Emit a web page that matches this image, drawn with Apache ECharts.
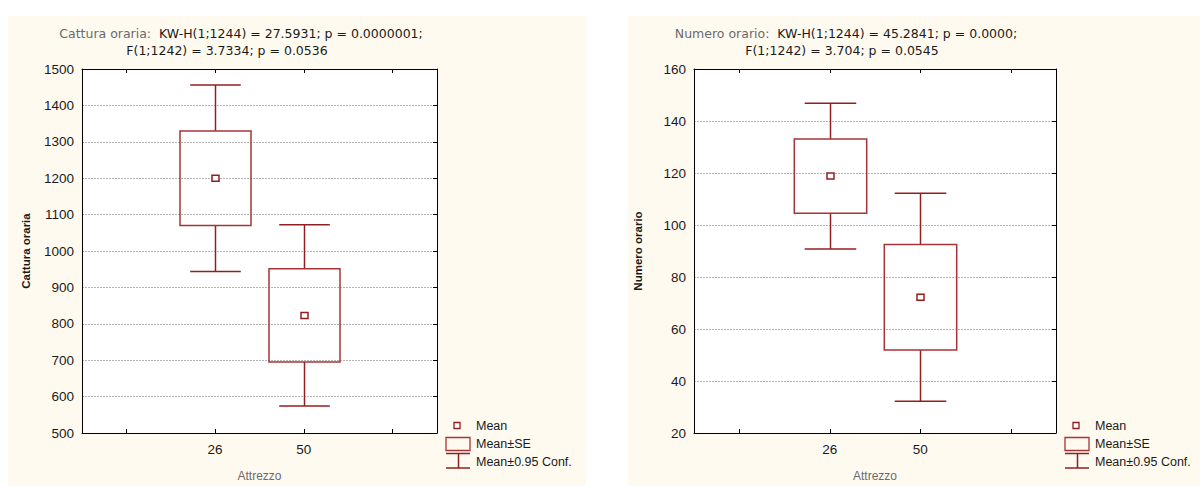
<!DOCTYPE html>
<html>
<head>
<meta charset="utf-8">
<script src="https://cdn.jsdelivr.net/npm/echarts@6/dist/echarts.min.js"></script>
<style>
  html, body { margin: 0; padding: 0; background: #ffffff; }
  #chart { width: 1200px; height: 487px; }
</style>
</head>
<body>
<div id="chart"></div>
<script>
// Groups on the x axis (gear type)
const categories = ['26', '50'];

// Cattura oraria: mean, ±SE box, ±0.95 confidence whiskers
const catchMean   = [1200, 823];
const catchSeLow  = [1070, 695];
const catchSeHigh = [1330, 951];
const catchCiLow  = [944, 574];
const catchCiHigh = [1456, 1072];
const catchTicks  = { min: 500, max: 1500, step: 100 };

// Numero orario: mean, ±SE box, ±0.95 confidence whiskers
const countMean   = [118.8, 72.2];
const countSeLow  = [104.5, 51.9];
const countSeHigh = [133.1, 92.5];
const countCiLow  = [90.8, 32.2];
const countCiHigh = [146.8, 112.2];
const countTicks  = { min: 20, max: 160, step: 20 };

const legendLabels = ['Mean', 'Mean±SE', 'Mean±0.95 Conf.'];

const catchTitle1 = ['Cattura oraria:', '  KW-H(1;1244) = 27.5931; p = 0.0000001;'];
const catchTitle2 = 'F(1;1242) = 3.7334; p = 0.0536';
const countTitle1 = ['Numero orario:', '  KW-H(1;1244) = 45.2841; p = 0.0000;'];
const countTitle2 = 'F(1;1242) = 3.704; p = 0.0545';

// padded category list: empty slots on each side of the two groups
const axisCats = [''].concat(categories, ['']);

const RED_BOX = '#a63436';
const RED_WHISKER = '#931e20';
const FONT = '"Liberation Sans", Arial, sans-serif';
const TITLE_FONT = '"DejaVu Sans", Verdana, sans-serif';

function seriesData(ciLo, seLo, m, seHi, ciHi) {
  return categories.map((c, i) => [c, ciLo[i], seLo[i], m[i], seHi[i], ciHi[i]]);
}

function renderBox(params, api) {
  const x = api.value(0);
  const band = api.size([1, 0])[0];
  const pCiLo = api.coord([x, api.value(1)]);
  const pSeLo = api.coord([x, api.value(2)]);
  const pMean = api.coord([x, api.value(3)]);
  const pSeHi = api.coord([x, api.value(4)]);
  const pCiHi = api.coord([x, api.value(5)]);
  const cx = Math.round(pMean[0]) + 0.5;
  const boxW = band * 0.8;
  const capW = band * 0.57;
  const lineW = { stroke: RED_WHISKER, lineWidth: 1.5 };
  return {
    type: 'group',
    children: [
      { type: 'line', shape: { x1: cx, y1: pCiHi[1], x2: cx, y2: pSeHi[1] }, style: lineW },
      { type: 'line', shape: { x1: cx - capW / 2, y1: pCiHi[1], x2: cx + capW / 2, y2: pCiHi[1] }, style: lineW },
      { type: 'line', shape: { x1: cx, y1: pSeLo[1], x2: cx, y2: pCiLo[1] }, style: lineW },
      { type: 'line', shape: { x1: cx - capW / 2, y1: pCiLo[1], x2: cx + capW / 2, y2: pCiLo[1] }, style: lineW },
      { type: 'rect', shape: { x: cx - boxW / 2, y: pSeHi[1], width: boxW, height: pSeLo[1] - pSeHi[1] },
        style: { fill: 'none', stroke: RED_BOX, lineWidth: 1.5 } },
      { type: 'rect', shape: { x: cx - 3.5, y: pMean[1] - 3, width: 7, height: 6 },
        style: { fill: '#ffffff', stroke: RED_WHISKER, lineWidth: 1.5 } }
    ]
  };
}

function xAxes(gridIndex) {
  const base = {
    type: 'category',
    gridIndex: gridIndex,
    data: axisCats,
    boundaryGap: true,
    axisLine: { show: true, lineStyle: { color: '#000', width: 1 } },
    axisTick: { show: true, inside: true, length: 4, alignWithLabel: true, interval: 0, lineStyle: { color: '#000' } },
    splitLine: { show: false }
  };
  return [
    Object.assign({}, base, {
      position: 'bottom',
      axisLabel: { interval: 0, color: '#1a1a1a', fontSize: 13.5, fontFamily: FONT, margin: 9 },
      name: 'Attrezzo',
      nameLocation: 'middle',
      nameGap: 37,
      nameTextStyle: { color: '#6a6a6a', fontSize: 12, fontFamily: FONT }
    }),
    Object.assign({}, base, { position: 'top', axisLabel: { show: false } })
  ];
}

function yAxes(gridIndex, ticks, title) {
  const base = {
    type: 'value',
    gridIndex: gridIndex,
    min: ticks.min,
    max: ticks.max,
    interval: ticks.step,
    axisLine: { show: true, onZero: false, lineStyle: { color: '#000', width: 1 } }
  };
  return [
    Object.assign({}, base, {
      position: 'left',
      axisTick: { show: false },
      axisLabel: { color: '#1a1a1a', fontSize: 13.5, fontFamily: FONT, margin: 8, formatter: v => String(v) },
      splitLine: { show: true, lineStyle: { color: '#b4b4b4', type: [2, 1], width: 1 } },
      name: title,
      nameLocation: 'middle',
      nameGap: 50,
      nameTextStyle: { color: '#1a1a1a', fontSize: 11.5, fontWeight: 'bold', fontFamily: FONT }
    }),
    Object.assign({}, base, {
      position: 'right',
      axisTick: { show: true, inside: true, length: 4, lineStyle: { color: '#000' } },
      axisLabel: { show: false },
      splitLine: { show: false }
    })
  ];
}

function titleText(cx, y, parts) {
  return {
    type: 'text', x: cx, y: y,
    style: {
      text: Array.isArray(parts) ? '{a|' + parts[0] + '}' + parts[1] : parts,
      rich: { a: { fill: '#6a6a6a', fontSize: 12.5, fontFamily: TITLE_FONT } },
      fill: '#1a1a1a', fontSize: 12.5, fontFamily: TITLE_FONT,
      align: 'center', verticalAlign: 'middle'
    }
  };
}

function legendGroup(x0) {
  const stroke = { stroke: RED_WHISKER, lineWidth: 1.5 };
  const textStyle = (t, y) => ({
    type: 'text', x: x0 + 30, y: y,
    style: { text: t, fill: '#1a1a1a', fontSize: 12.5, fontFamily: FONT, verticalAlign: 'middle' }
  });
  return [
    { type: 'rect', shape: { x: x0 + 8, y: 422.5, width: 6, height: 6 }, style: { fill: '#fff', stroke: RED_WHISKER, lineWidth: 1.3 } },
    { type: 'rect', shape: { x: x0, y: 437.5, width: 24, height: 13 }, style: { fill: 'none', stroke: RED_BOX, lineWidth: 1.3 } },
    { type: 'line', shape: { x1: x0, y1: 453.5, x2: x0 + 24, y2: 453.5 }, style: stroke },
    { type: 'line', shape: { x1: x0 + 12.5, y1: 453.5, x2: x0 + 12.5, y2: 468 }, style: stroke },
    { type: 'line', shape: { x1: x0, y1: 468, x2: x0 + 24, y2: 468 }, style: stroke },
    textStyle(legendLabels[0], 426),
    textStyle(legendLabels[1], 444),
    textStyle(legendLabels[2], 462)
  ];
}

const chart = echarts.init(document.getElementById('chart'), null, { renderer: 'svg' });

chart.setOption({
  backgroundColor: '#ffffff',
  animation: false,
  graphic: [
    { type: 'rect', z: -10, shape: { x: 8, y: 16, width: 578, height: 470 }, style: { fill: '#fffaf0' } },
    { type: 'rect', z: -10, shape: { x: 628, y: 16, width: 572, height: 470 }, style: { fill: '#fffaf0' } },
    titleText(241, 33, catchTitle1),
    titleText(227, 50, catchTitle2),
    titleText(846, 33, countTitle1),
    titleText(842, 50, countTitle2)
  ].concat(legendGroup(446), legendGroup(1065)),
  grid: [
    { left: 82, top: 69, right: 763, bottom: 49, show: true, backgroundColor: '#ffffff', borderWidth: 0 },
    { left: 694, top: 69, right: 144, bottom: 49, show: true, backgroundColor: '#ffffff', borderWidth: 0 }
  ],
  xAxis: xAxes(0).concat(xAxes(1)),
  yAxis: yAxes(0, catchTicks, 'Cattura oraria').concat(yAxes(1, countTicks, 'Numero orario')),
  series: [
    {
      type: 'custom', xAxisIndex: 0, yAxisIndex: 0,
      encode: { x: 0, y: [1, 2, 3, 4, 5] },
      renderItem: renderBox,
      data: seriesData(catchCiLow, catchSeLow, catchMean, catchSeHigh, catchCiHigh)
    },
    {
      type: 'custom', xAxisIndex: 2, yAxisIndex: 2,
      encode: { x: 0, y: [1, 2, 3, 4, 5] },
      renderItem: renderBox,
      data: seriesData(countCiLow, countSeLow, countMean, countSeHigh, countCiHigh)
    }
  ]
});
</script>
</body>
</html>
